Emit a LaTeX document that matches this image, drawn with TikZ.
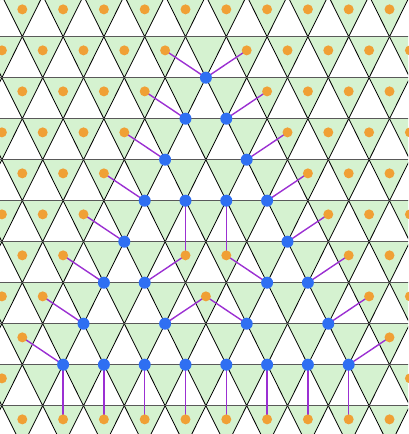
\documentclass[tikz,border=0pt]{standalone}
\definecolor{trigreen}{HTML}{D5F2D0}
\definecolor{dotorange}{HTML}{F0A035}
\definecolor{nodeblue}{HTML}{2F6FF2}
\definecolor{edgepurple}{HTML}{9B30D2}
\pgfdeclarelayer{tri}\pgfdeclarelayer{edges}\pgfsetlayers{tri,edges,main}
\foreach \p in {1-5,2-4,2-5,3-4,3-5,3-6,4-3,4-4,4-5,4-6,5-3,5-4,5-5,5-6,5-7,6-2,6-3,6-6,6-7,7-2,7-3,7-4,7-6,7-7,7-8,8-1,8-2,8-3,8-4,8-5,8-6,8-7,8-8,9-1,9-2,9-3,9-4,9-5,9-6,9-7,9-8,9-9}{\expandafter\gdef\csname miss-\p\endcsname{}}
\begin{document}
\begin{tikzpicture}[x=1pt,y=-1pt,
  odot/.style={circle,fill=dotorange,inner sep=0pt,minimum size=10pt},
  bdot/.style={circle,fill=nodeblue,inner sep=0pt,minimum size=12pt},
  link/.style={draw=edgepurple,line width=1.4pt},
  trifill/.style={fill=trigreen},
  diag/.style={draw=black,line width=0.8pt},
  hline/.style={draw=black!65,line width=1.5pt}]
\useasboundingbox (0,0) rectangle (408,434);
\begin{pgfonlayer}{tri}
\clip (0,0) rectangle (408,434);
\foreach \k in {0,...,10}{\foreach \j in {-1,...,10}{
  \pgfmathsetmacro\ax{22.3+40.8*\j-20.4*mod(\k,2)}
  \pgfmathsetmacro\ay{36.7+41*\k}
  \fill[trifill] ({\ax-20.4},{\ay-41}) -- ({\ax+20.4},{\ay-41}) -- (\ax,\ay) -- cycle;
  \draw[diag] ({\ax-20.4},{\ay-41}) -- (\ax,\ay) -- ({\ax+20.4},{\ay-41});
}}
\foreach \k in {-1,...,10}{\draw[hline] (-5,{36.7+41*\k}) -- (413,{36.7+41*\k});}
\end{pgfonlayer}
% orange dots
\foreach \k in {0,...,10}{\foreach \j in {-1,...,10}{
  \ifcsname miss-\k-\j\endcsname\else
    \node[odot] (d-\k-\j) at ({22.3+40.8*\j-20.4*mod(\k,2)},{36.7+41*\k-41+41/3}) {};
  \fi
}}
% blue nodes
\foreach \k/\j in {1/5,2/4,2/5,3/4,3/6,4/3,4/4,4/5,4/6,5/3,5/7,6/2,6/3,6/6,6/7,7/2,7/4,7/6,7/8,8/1,8/2,8/3,8/4,8/5,8/6,8/7,8/8}
  \node[bdot] (b-\k-\j) at ({22.3+40.8*\j-20.4*mod(\k,2)},{36.7+41*\k}) {};
\begin{pgfonlayer}{edges}
\foreach \a/\b in {b-1-5/d-1-4,b-1-5/d-1-6,b-2-4/d-2-3,b-2-5/d-2-6,b-3-4/d-3-3,b-3-6/d-3-7,b-4-3/d-4-2,b-4-6/d-4-7,b-4-4/d-6-4,b-4-5/d-6-5,b-5-3/d-5-2,b-5-7/d-5-8,b-6-2/d-6-1,b-6-3/d-6-4,b-6-6/d-6-5,b-6-7/d-6-8,b-7-2/d-7-1,b-7-4/d-7-5,b-7-6/d-7-5,b-7-8/d-7-9,b-8-1/d-8-0,b-8-8/d-8-9}
  \draw[link] (\a.center) -- (\b.center);
\foreach \j in {1,...,8}
  \draw[link] (b-8-\j.center) -- (d-10-\j.center);
\end{pgfonlayer}
\end{tikzpicture}
\end{document}
